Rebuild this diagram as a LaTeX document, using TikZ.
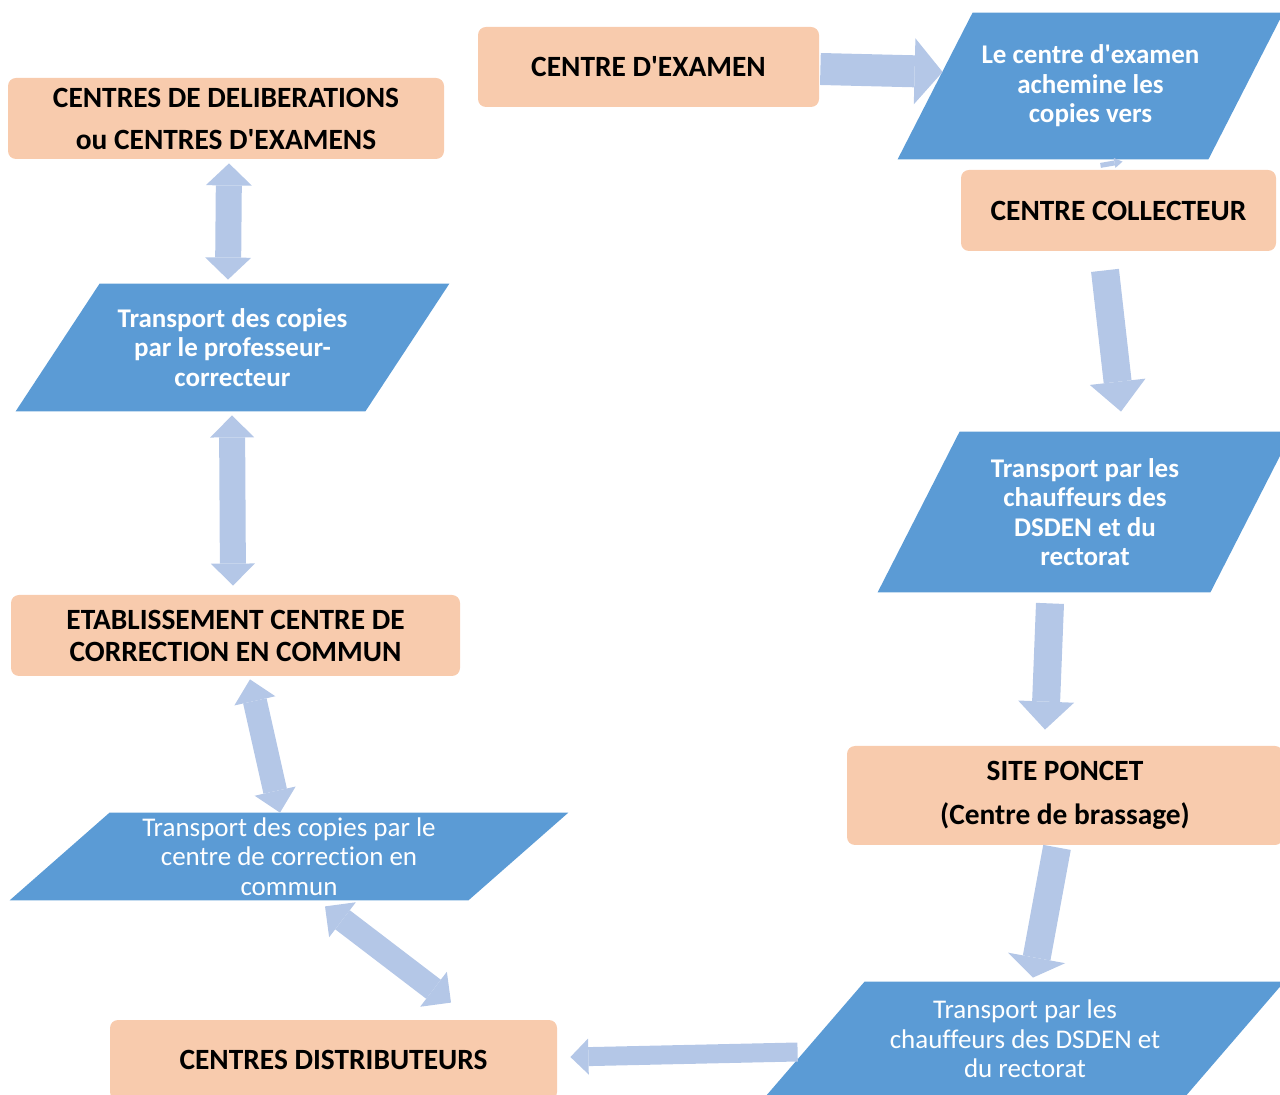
\documentclass[tikz,border=0pt]{standalone}
\usepackage{fontspec}
\setmainfont{Carlito}[Ligatures=NoCommon]
\usetikzlibrary{arrows.meta,backgrounds}
\definecolor{boxcol}{HTML}{F8CBAD}
\definecolor{paracol}{HTML}{5B9BD5}
\definecolor{arrowcol}{HTML}{B4C7E7}
\tikzstyle{box}=[rounded corners=4pt,fill=boxcol,align=center,inner sep=0pt,
  font=\bfseries\fontsize{14.7}{16}\selectfont]
\tikzstyle{para}=[align=center,inner sep=0pt,text=white,
  font=\fontsize{13.5}{14.75}\selectfont]
\tikzstyle{fat}=[arrowcol]
\newcommand{\apos}{\textquotesingle}

\begin{document}
\begin{tikzpicture}[x=0.5pt,y=-0.5pt]
  \useasboundingbox (0,0) rectangle (1280,1095);
  % Boxes
  \node[box,minimum width=170.5pt,minimum height=40pt] (ex) at (648.5,67) {CENTRE D\apos EXAMEN};
  \node[box,minimum width=218pt,minimum height=40.5pt] (delib) at (226,118.5)
    {CENTRES DE DELIBERATIONS\\[5pt] ou CENTRES D\apos EXAMENS};
  \node[box,minimum width=157.5pt,minimum height=40.5pt] (coll) at (1118.5,210.5) {CENTRE COLLECTEUR};
  \node[box,minimum width=224.5pt,minimum height=40.5pt] (etab) at (235.5,635.5)
    {ETABLISSEMENT CENTRE DE\\CORRECTION EN COMMUN};
  \node[box,minimum width=218pt,minimum height=49.5pt] (poncet) at (1065,795.5)
    {SITE PONCET\\[6pt](Centre de brassage)};
  \node[box,minimum width=223.5pt,minimum height=40pt] (distrib) at (333.5,1060) {CENTRES DISTRIBUTEURS};
  % Parallelograms
  \node[para,font=\bfseries\fontsize{13.5}{14.75}\selectfont,minimum width=192.5pt,minimum height=73pt]
    (pA) at (1090.5,86) {Le centre d\apos examen\\achemine les\\copies vers};
  \node[para,font=\bfseries\fontsize{13.5}{14.75}\selectfont,minimum width=216.5pt,minimum height=63.5pt]
    (pB) at (232.5,347.5) {Transport des copies\\par le professeur-\\correcteur};
  \node[para,font=\bfseries\fontsize{13.5}{14.75}\selectfont,minimum width=207pt,minimum height=80pt]
    (pC) at (1085,512) {Transport par les\\chauffeurs des\\DSDEN et du\\rectorat};
  \node[para,minimum width=279pt,minimum height=43.5pt]
    (pD) at (289,856.5) {Transport des copies par le\\centre de correction en\\commun};
  \node[para,minimum width=259pt,minimum height=57pt]
    (pE) at (1025,1039) {Transport par les\\chauffeurs des DSDEN et\\du rectorat};
  \begin{scope}[on background layer]
    \foreach \n/\s in {pA/37.5,pB/42,pC/41,pD/50,pE/49.5}
      \fill[paracol] (\n.south west) -- ([xshift=-\s pt]\n.south east)
        -- (\n.north east) -- ([xshift=\s pt]\n.north west) -- cycle;
  \end{scope}
  % Arrows
  \draw[fat,line width=16pt,-{Triangle[width=33pt,length=14pt,line width=0pt]}]
    ([shift={(1,2)}]ex.east) -- ([shift={(45,-14)}]pA.west);
  \draw[fat,line width=2.5pt,-{Triangle[width=5pt,length=4pt,line width=0pt]}]
    ([shift={(10,6)}]pA.south) -- ([shift={(4,-8)}]coll.north);
  \draw[fat,line width=14pt,-{Triangle[width=28pt,length=15pt,line width=0pt]}]
    ([shift={(-13.5,19)}]coll.south) -- ([shift={(36,-20)}]pC.north);
  \draw[fat,line width=14pt,-{Triangle[width=28pt,length=14pt,line width=0pt]}]
    ([shift={(-35,11)}]pC.south) -- ([shift={(-20,-16)}]poncet.north);
  \draw[fat,line width=14pt,-{Triangle[width=29pt,length=10pt,line width=0pt]}]
    ([shift={(-8,2)}]poncet.south) -- ([shift={(8,-4)}]pE.north);
  \draw[fat,line width=9.5pt,-{Triangle[width=18pt,length=9pt,line width=0pt]}]
    ([shift={(32,13)}]pE.west) -- ([shift={(13,-3)}]distrib.east);
  \draw[fat,line width=13pt,{Triangle[width=23pt,length=11pt,line width=0pt]}-{Triangle[width=23pt,length=11pt,line width=0pt]}]
    ([shift={(3,4)}]delib.south) -- ([shift={(-4.5,-4)}]pB.north);
  \draw[fat,line width=13pt,{Triangle[width=22pt,length=11pt,line width=0pt]}-{Triangle[width=22pt,length=11pt,line width=0pt]}]
    ([shift={(-0.5,4)}]pB.south) -- ([shift={(-2.5,-9)}]etab.north);
  \draw[fat,line width=12pt,{Triangle[width=21pt,length=11pt,line width=0pt]}-{Triangle[width=21pt,length=11pt,line width=0pt]}]
    ([shift={(14.5,3)}]etab.south) -- ([shift={(-9,0)}]pD.north);
  \draw[fat,line width=12pt,{Triangle[width=22pt,length=11pt,line width=0pt]}-{Triangle[width=22pt,length=11pt,line width=0pt]}]
    ([shift={(36,6)}]pD.south) -- ([shift={(117.5,-17)}]distrib.north);
\end{tikzpicture}
\end{document}
